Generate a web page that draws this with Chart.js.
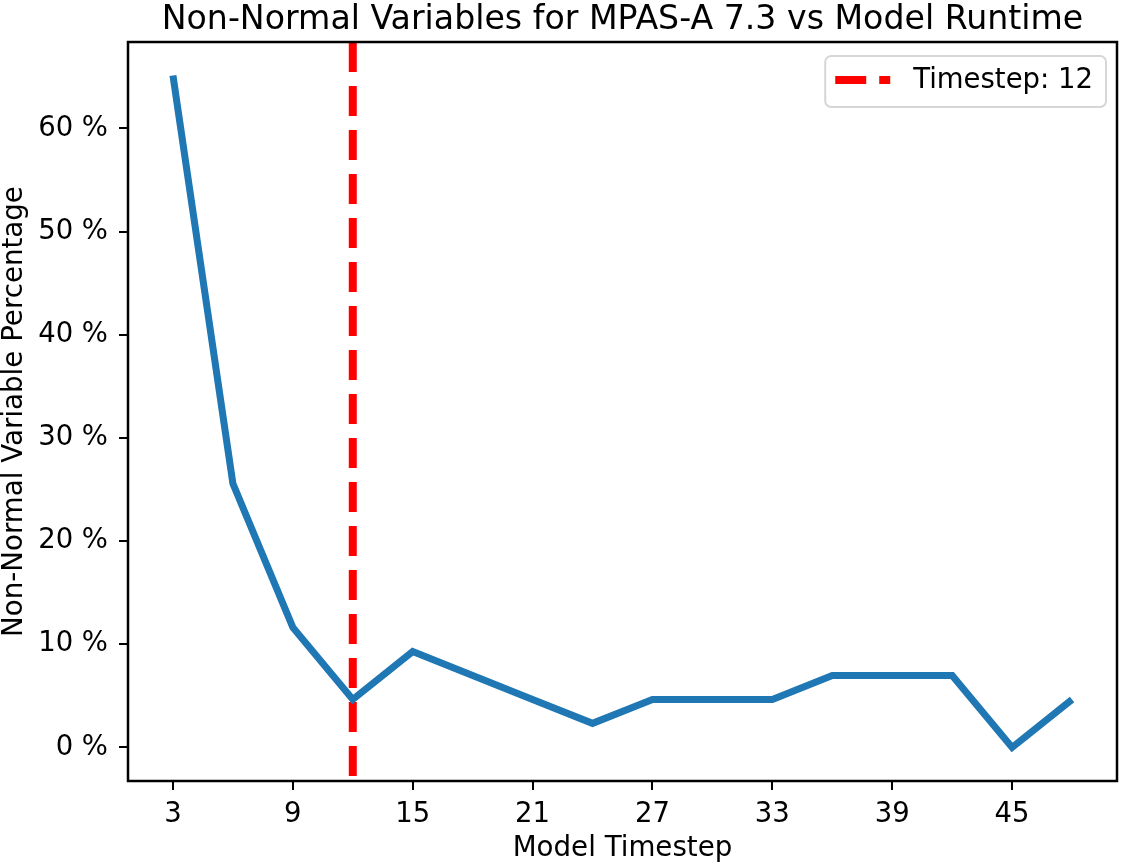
<!DOCTYPE html>
<html>
<head>
<meta charset="utf-8">
<script src="https://cdn.jsdelivr.net/npm/chart.js@4"></script>
<style>
    body { margin: 0; background: #fff; }
    canvas { display: block; }
</style>
</head>
<body>
<canvas id="runtimeChart" width="1122" height="868"></canvas>
<script>
// model timesteps (x) and non-normal share in % (y)
const timesteps = [3, 6, 9, 12, 15, 18, 21, 24, 27, 30, 33, 36, 39, 42, 45, 48];
const percentages = [65.12, 25.58, 11.63, 4.65, 9.30, 6.98, 4.65, 2.33, 4.65, 4.65, 4.65, 6.98, 6.98, 6.98, 0, 4.65];
const xTicks = [3, 9, 15, 21, 27, 33, 39, 45];
const yTicks = [0, 10, 20, 30, 40, 50, 60];
const markerStep = 12;
const xRange = [0.75, 50.25];
const yRange = [-3.256, 68.372];

const font = "'DejaVu Sans', 'Liberation Sans', sans-serif";

// frame round the plot like the matplotlib spines
const framePlugin = {
    id: 'frame',
    afterDraw(chart) {
        const a = chart.chartArea;
        const ctx = chart.ctx;
        ctx.save();
        ctx.strokeStyle = '#000';
        ctx.lineWidth = 2.5;
        ctx.strokeRect(a.left, a.top, a.right - a.left, a.bottom - a.top);
        ctx.restore();
    }
};

// boxed legend in the top right corner of the plot
const boxLegend = {
    id: 'boxLegend',
    afterDraw(chart) {
        const ds = chart.data.datasets[1];
        const a = chart.chartArea;
        const ctx = chart.ctx;
        ctx.save();
        ctx.font = '27.5px ' + font;
        const tw = ctx.measureText(ds.label).width;
        const w = 10 + 55 + 23 + tw + 13;
        const h = 51;
        const x = a.right - 11 - w;
        const y = a.top + 14;
        ctx.beginPath();
        ctx.roundRect(x, y, w, h, 6);
        ctx.fillStyle = 'rgba(255,255,255,0.8)';
        ctx.fill();
        ctx.strokeStyle = '#d6d6d6';
        ctx.lineWidth = 2;
        ctx.stroke();
        ctx.beginPath();
        ctx.setLineDash([31, 13]);
        ctx.strokeStyle = ds.borderColor;
        ctx.lineWidth = 8;
        ctx.moveTo(x + 10, y + 24);
        ctx.lineTo(x + 65, y + 24);
        ctx.stroke();
        ctx.setLineDash([]);
        ctx.fillStyle = '#000';
        ctx.textBaseline = 'middle';
        ctx.fillText(ds.label, x + 88, y + 25);
        ctx.restore();
    }
};

new Chart(document.getElementById('runtimeChart'), {
    type: 'line',
    data: {
        datasets: [{
            label: 'Non-Normal Variables',
            data: timesteps.map((t, i) => ({ x: t, y: percentages[i] })),
            borderColor: '#1f77b4',
            borderWidth: 7,
            pointRadius: 0,
            tension: 0,
            fill: false
        }, {
            label: 'Timestep: ' + markerStep,
            data: [{ x: markerStep, y: yRange[1] }, { x: markerStep, y: yRange[0] }],
            borderColor: '#ff0000',
            borderWidth: 8,
            borderDash: [30, 14],
            borderCapStyle: 'butt',
            pointRadius: 0,
            fill: false
        }]
    },
    options: {
        responsive: false,
        animation: false,
        devicePixelRatio: 1,
        layout: { padding: { top: 0, right: 5, bottom: 0, left: 0 } },
        plugins: {
            legend: { display: false },
            tooltip: { enabled: false },
            title: {
                display: true,
                fullSize: false,
                text: 'Non-Normal Variables for MPAS-A 7.3 vs Model Runtime',
                color: '#000',
                font: { family: font, size: 33.2, weight: 'normal', lineHeight: 0.88 },
                padding: { top: 5.5, bottom: 7.3 }
            }
        },
        scales: {
            x: {
                type: 'linear',
                min: xRange[0],
                max: xRange[1],
                afterBuildTicks: (s) => { s.ticks = xTicks.map(v => ({ value: v })); },
                afterFit: (s) => { s.height = 87; },
                border: { display: false },
                grid: { drawOnChartArea: false, drawTicks: true, tickLength: 9, color: '#000', lineWidth: 2 },
                ticks: { color: '#000', font: { family: font, size: 27.5 }, padding: 8, maxRotation: 0 },
                title: {
                    display: true,
                    text: 'Model Timestep',
                    color: '#000',
                    font: { family: font, size: 27.7, lineHeight: 1.0 },
                    padding: { top: 0, bottom: 5 }
                }
            },
            y: {
                type: 'linear',
                min: yRange[0],
                max: yRange[1],
                afterBuildTicks: (s) => { s.ticks = yTicks.map(v => ({ value: v })); },
                afterFit: (s) => { s.width = 128; },
                border: { display: false },
                grid: { drawOnChartArea: false, drawTicks: true, tickLength: 9, color: '#000', lineWidth: 2 },
                ticks: { color: '#000', font: { family: font, size: 27.5 }, padding: 11, callback: (v) => v + ' %' },
                title: {
                    display: true,
                    text: 'Non-Normal Variable Percentage',
                    color: '#000',
                    font: { family: font, size: 27.7, lineHeight: 1.0 },
                    padding: { top: 0.5, bottom: 0 }
                }
            }
        }
    },
    plugins: [framePlugin, boxLegend]
});
</script>
</body>
</html>
